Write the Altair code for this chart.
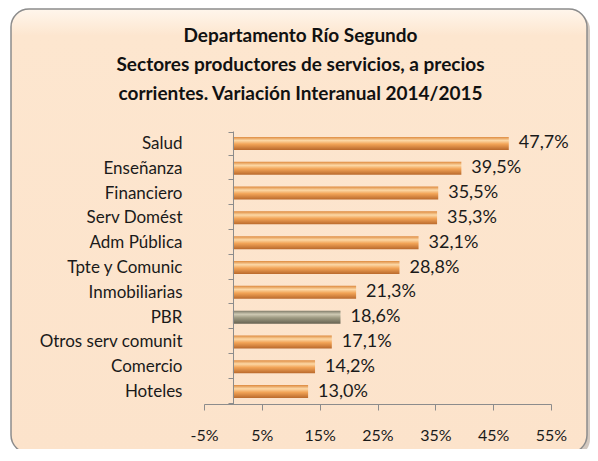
import altair as alt
import pandas as pd

categories = ["Salud", "Enseñanza", "Financiero", "Serv Domést", "Adm Pública",
              "Tpte y Comunic", "Inmobiliarias", "PBR", "Otros serv comunit",
              "Comercio", "Hoteles"]
values = [47.7, 39.5, 35.5, 35.3, 32.1, 28.8, 21.3, 18.6, 17.1, 14.2, 13.0]
x_ticks = [-5, 5, 15, 25, 35, 45, 55]
title_lines = ["Departamento Río Segundo",
               "Sectores productores de servicios, a precios",
               "corrientes. Variación Interanual 2014/2015"]

df = pd.DataFrame({"sector": categories, "valor": values})
df["label"] = [f"{v:.1f}".replace(".", ",") + "%" for v in values]

FONT = "Lato"
W, H = 347, 273

orange_grad = alt.Gradient(
    gradient="linear", x1=0, y1=0, x2=0, y2=1,
    stops=[alt.GradientStop(offset=0, color="#DE8A3E"),
           alt.GradientStop(offset=0.28, color="#FCD8A6"),
           alt.GradientStop(offset=0.55, color="#F2A457"),
           alt.GradientStop(offset=1, color="#B9692C")])
gray_grad = alt.Gradient(
    gradient="linear", x1=0, y1=0, x2=0, y2=1,
    stops=[alt.GradientStop(offset=0, color="#7C7866"),
           alt.GradientStop(offset=0.28, color="#CFCAB4"),
           alt.GradientStop(offset=0.55, color="#9E9A82"),
           alt.GradientStop(offset=1, color="#676352")])
box_grad = alt.Gradient(
    gradient="linear", x1=0, y1=0, x2=0, y2=1,
    stops=[alt.GradientStop(offset=0, color="#FFF6EC"),
           alt.GradientStop(offset=0.06, color="#FDE6CF"),
           alt.GradientStop(offset=1, color="#FCE3CB")])

one = alt.Data(values=[{}])

shadow = alt.Chart(one).mark_rect(cornerRadius=18, fill="#B5A596", opacity=0.6).encode(
    x=alt.value(-189), x2=alt.value(386), y=alt.value(-119), y2=alt.value(326))
box = alt.Chart(one).mark_rect(cornerRadius=18, fill=box_grad, stroke="#8C8C8C",
                               strokeWidth=1.5).encode(
    x=alt.value(-193), x2=alt.value(383), y=alt.value(-122), y2=alt.value(322))

xenc = alt.X("valor:Q", scale=alt.Scale(domain=[-5, 55], nice=False, zero=False),
             axis=alt.Axis(values=x_ticks, title=None, grid=False, zindex=2,
                           labelExpr="datum.value + '%'", tickSize=6, labelFlush=False,
                           labelPadding=17, domainColor="#8C8C8C", tickColor="#8C8C8C",
                           labelFont=FONT, labelFontSize=16, labelColor="#1A1A1A"))
yenc = alt.Y("sector:N", sort=categories,
             axis=alt.Axis(title=None, offset=-29, tickBand="extent", tickSize=5, zindex=2,
                           labelPadding=46, domainColor="#8C8C8C", tickColor="#8C8C8C",
                           labelFont=FONT, labelFontSize=17, labelColor="#1A1A1A"))

base = alt.Chart(df)
bars_o = base.transform_filter("datum.sector != 'PBR'").mark_bar(
    size=13, fill=orange_grad).encode(x=xenc, x2=alt.datum(0), y=yenc)
bars_g = base.transform_filter("datum.sector == 'PBR'").mark_bar(
    size=13, fill=gray_grad).encode(x=xenc, x2=alt.datum(0), y=yenc)
labels = base.mark_text(align="left", dx=10, font=FONT, fontSize=18,
                        color="#1A1A1A").encode(x="valor:Q", y=alt.Y("sector:N", sort=categories),
                                                text="label:N")

chart = alt.layer(shadow, box, bars_o, bars_g, labels).properties(
    width=W, height=H,
    autosize=alt.AutoSizeParams(type="none"),
    padding={"left": 196, "top": 123, "right": 39, "bottom": 45},
    background="white",
    title=alt.TitleParams(title_lines, font=FONT, fontSize=19, fontWeight="bold",
                          color="#111111", lineHeight=29, dx=-77, offset=-96,
                          anchor="middle"),
).configure_view(stroke=None)

chart.save("out.html", embed_options={"renderer": "svg", "actions": False})
